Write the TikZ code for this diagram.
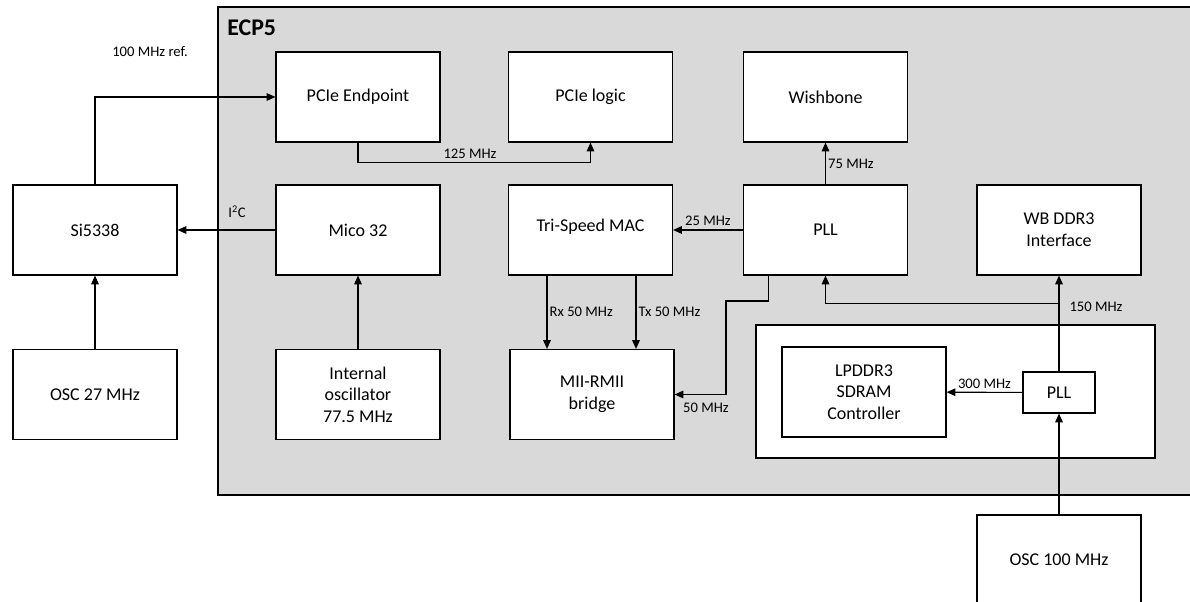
\documentclass[tikz,border=0pt]{standalone}
\usepackage{fontspec}
\setmainfont{Carlito}
\usetikzlibrary{arrows.meta}
\definecolor{ecpgray}{HTML}{D9D9D9}

\begin{document}
\begin{tikzpicture}[x=0.025cm,y=-0.025cm,
  blk/.style={draw,fill=white,line width=0.8pt,minimum width=4.1cm,minimum height=2.25cm,
    align=center,inner sep=0pt,font=\fontsize{12.8}{15.4}\selectfont},
  arr/.style={line width=0.8pt,-{Triangle[length=2.2mm,width=1.9mm]}},
  lbl/.style={font=\fontsize{10.4}{12}\selectfont,inner sep=2.5pt}]
\useasboundingbox (0,0) rectangle (1190,602);
\clip (0,0) rectangle (1190,602);
\draw[fill=ecpgray,line width=0.8pt] (218,7) rectangle (1215,495);
\node[anchor=west,inner sep=0pt,font=\bfseries\fontsize{17}{20}\selectfont] (ecp) at (227,28) {ECP5};
\draw[fill=white,line width=0.8pt] (756,325) rectangle (1155,458);
\node[blk] (pcie) at (358,97) {PCIe Endpoint};
\node[blk] (pcielogic) at (590.5,97) {PCIe logic};
\node[blk] (wishbone) at (825.5,97) {Wishbone};
\node[blk] (si) at (95,230) {Si5338};
\node[blk] (osc27) at (95,394.5) {OSC 27 MHz};
\node[blk] (mico) at (358,230) {Mico 32};
\node[blk] (intosc) at (358,394.5) {Internal\\oscillator\\77.5 MHz};
\node[blk] (mac) at (590.5,230) {\raisebox{0.25cm}{Tri-Speed MAC}};
\node[blk] (pll) at (825.5,230) {PLL};
\node[blk] (wbddr) at (1059,230) {WB DDR3\\Interface};
\node[blk] (bridge) at (592,394.5) {MII-RMII\\bridge};
\node[blk] (lpddr) at (864,392) {LPDDR3\\SDRAM\\Controller};
\node[blk,minimum width=1.8cm,minimum height=1.025cm] (pllsmall) at (1059,392.5) {PLL};
\node[blk] (osc100) at (1059,560) {OSC 100 MHz};
\coordinate (rx) at (547,0);
\coordinate (tx) at (636,0);
\draw[arr] (si.north) |- (pcie.west);
\node[lbl] (refclk) at (150,52) {100 MHz ref.};
\draw[arr] (pcie.south) -- ++(0,20) -| (pcielogic.south);
\node[lbl] (pcieclk) at (470,154) {125 MHz};
\draw[arr] (mico) -- (si);
\node[lbl] (i2c) at (237,212) {I\textsuperscript{2}C};
\draw[arr] (intosc) -- (mico);
\draw[arr] (osc27) -- (si);
\draw[arr] (pll) -- (wishbone) node[lbl,midway,right,inner sep=1.5pt] {75 MHz};
\draw[arr] (pll) -- (mac) node[lbl,midway,above] {25 MHz};
\draw[arr] (rx |- mac.south) -- (rx |- bridge.north) node[lbl,midway,right,inner sep=1.5pt] {Rx 50 MHz};
\draw[arr] (tx |- mac.south) -- (tx |- bridge.north) node[lbl,midway,right,inner sep=1.5pt] {Tx 50 MHz};
\draw[arr] ([xshift=0.65cm]pll.south west) |- (726,301) |- (bridge.east);
\node[lbl] (rmiiclk) at (706,408) {50 MHz};
\draw[arr] (pllsmall) -- (wbddr);
\draw[arr] (pllsmall.north) -- ++(0,-68) -| (pll.south);
\node[lbl] (ddrclk) at (1096,307) {150 MHz};
\draw[arr] (pllsmall) -- (lpddr) node[lbl,midway,above] {300 MHz};
\draw[arr] (osc100) -- (pllsmall);
\end{tikzpicture}
\end{document}
